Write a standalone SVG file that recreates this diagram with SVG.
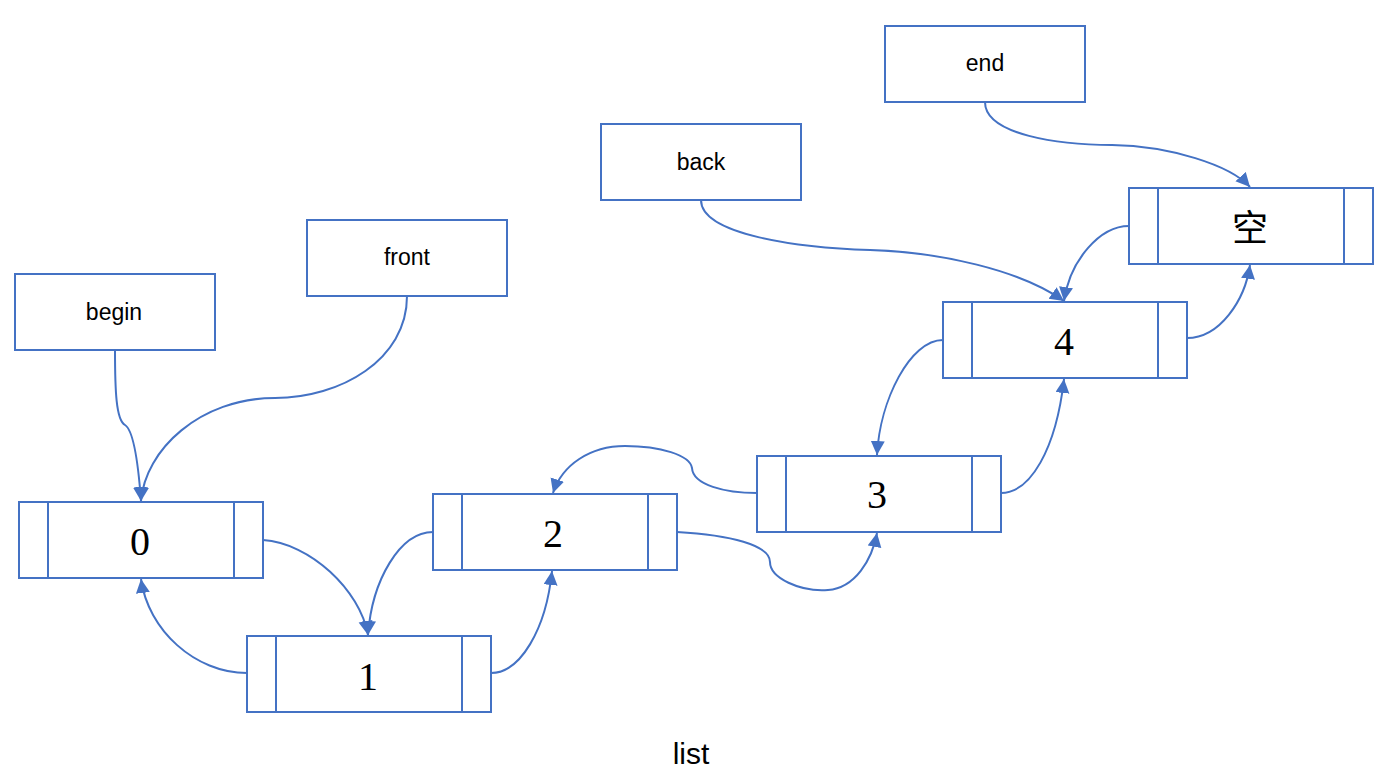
<svg xmlns="http://www.w3.org/2000/svg" width="1396" height="776" viewBox="0 0 1396 776">
<style>
.box{fill:#ffffff;stroke:#4472C4;stroke-width:2}
.div{stroke:#4472C4;stroke-width:2}
.lbl{font-family:"Liberation Sans","DejaVu Sans",sans-serif;font-size:23px;fill:#000;text-anchor:middle}
.num{font-family:"Liberation Serif","DejaVu Serif",serif;font-size:40px;fill:#000;text-anchor:middle}
.cjk{font-family:"Liberation Serif","Noto Sans CJK SC",serif;font-size:36px;fill:#000;text-anchor:middle}
.con{fill:none;stroke:#4472C4;stroke-width:2;marker-end:url(#arr)}
</style>
<defs>
<marker id="arr" markerUnits="userSpaceOnUse" markerWidth="16" markerHeight="16" refX="14" refY="7" orient="auto">
<path d="M0,0 L14,7 L0,14 z" fill="#4472C4"/>
</marker>
</defs>
<rect width="1396" height="776" fill="#ffffff"/>
<g id="connectors">
<path class="con" d="M115,350 C115,390 116,420 125,425 C133,430 138,460 141,501"/>
<path class="con" d="M407,296 C407,360 340,398 275,398 C200,398 145,450 141,501"/>
<path class="con" d="M263,540 C310,543 360,590 368,635"/>
<path class="con" d="M247,673 C195,673 148,630 141,579"/>
<path class="con" d="M433,532 C400,532 372,580 368,635"/>
<path class="con" d="M491,673 C520,673 546,630 552,571"/>
<path class="con" d="M677,532 C730,535 770,545 770,562 C770,578 800,592 828,590 C855,588 872,560 877,533"/>
<path class="con" d="M757,493 C725,493 693,485 692,468 C690,455 660,446 625,446 C590,446 562,465 553,493"/>
<path class="con" d="M1001,493 C1030,493 1056,450 1064,379"/>
<path class="con" d="M943,340 C910,340 880,400 877,455"/>
<path class="con" d="M1187,338 C1220,338 1245,300 1250,265"/>
<path class="con" d="M1129,226 C1100,226 1070,260 1064,301"/>
<path class="con" d="M701,200 C701,235 800,248 870,250 C940,252 1020,270 1064,301"/>
<path class="con" d="M985,102 C985,135 1060,145 1112,145 C1170,146 1230,165 1250,187"/>
</g>
<g id="end"><rect class="box" x="885" y="26" width="200" height="76"/><text class="lbl" x="985" y="71">end</text></g>
<g id="back"><rect class="box" x="601" y="124" width="200" height="76"/><text class="lbl" x="701" y="170">back</text></g>
<g id="front"><rect class="box" x="307" y="220" width="200" height="76"/><text class="lbl" x="407" y="265">front</text></g>
<g id="begin"><rect class="box" x="15" y="274" width="200" height="76"/><text class="lbl" x="114" y="320">begin</text></g>
<g id="n0"><rect class="box" x="19" y="502" width="244" height="76"/><line class="div" x1="48" y1="502" x2="48" y2="578"/><line class="div" x1="234" y1="502" x2="234" y2="578"/><text class="num" x="140" y="555">0</text></g>
<g id="n1"><rect class="box" x="247" y="636" width="244" height="76"/><line class="div" x1="276" y1="636" x2="276" y2="712"/><line class="div" x1="462" y1="636" x2="462" y2="712"/><text class="num" x="368" y="690">1</text></g>
<g id="n2"><rect class="box" x="433" y="494" width="244" height="76"/><line class="div" x1="462" y1="494" x2="462" y2="570"/><line class="div" x1="648" y1="494" x2="648" y2="570"/><text class="num" x="553" y="547">2</text></g>
<g id="n3"><rect class="box" x="757" y="456" width="244" height="76"/><line class="div" x1="786" y1="456" x2="786" y2="532"/><line class="div" x1="972" y1="456" x2="972" y2="532"/><text class="num" x="877" y="508">3</text></g>
<g id="n4"><rect class="box" x="943" y="302" width="244" height="76"/><line class="div" x1="972" y1="302" x2="972" y2="378"/><line class="div" x1="1158" y1="302" x2="1158" y2="378"/><text class="num" x="1064" y="355">4</text></g>
<g id="nil"><rect class="box" x="1129" y="188" width="244" height="76"/><line class="div" x1="1158" y1="188" x2="1158" y2="264"/><line class="div" x1="1344" y1="188" x2="1344" y2="264"/><text class="cjk" x="1250" y="241">空</text></g>
<text class="lbl" x="691" y="764" style="font-size:30px">list</text>
</svg>
